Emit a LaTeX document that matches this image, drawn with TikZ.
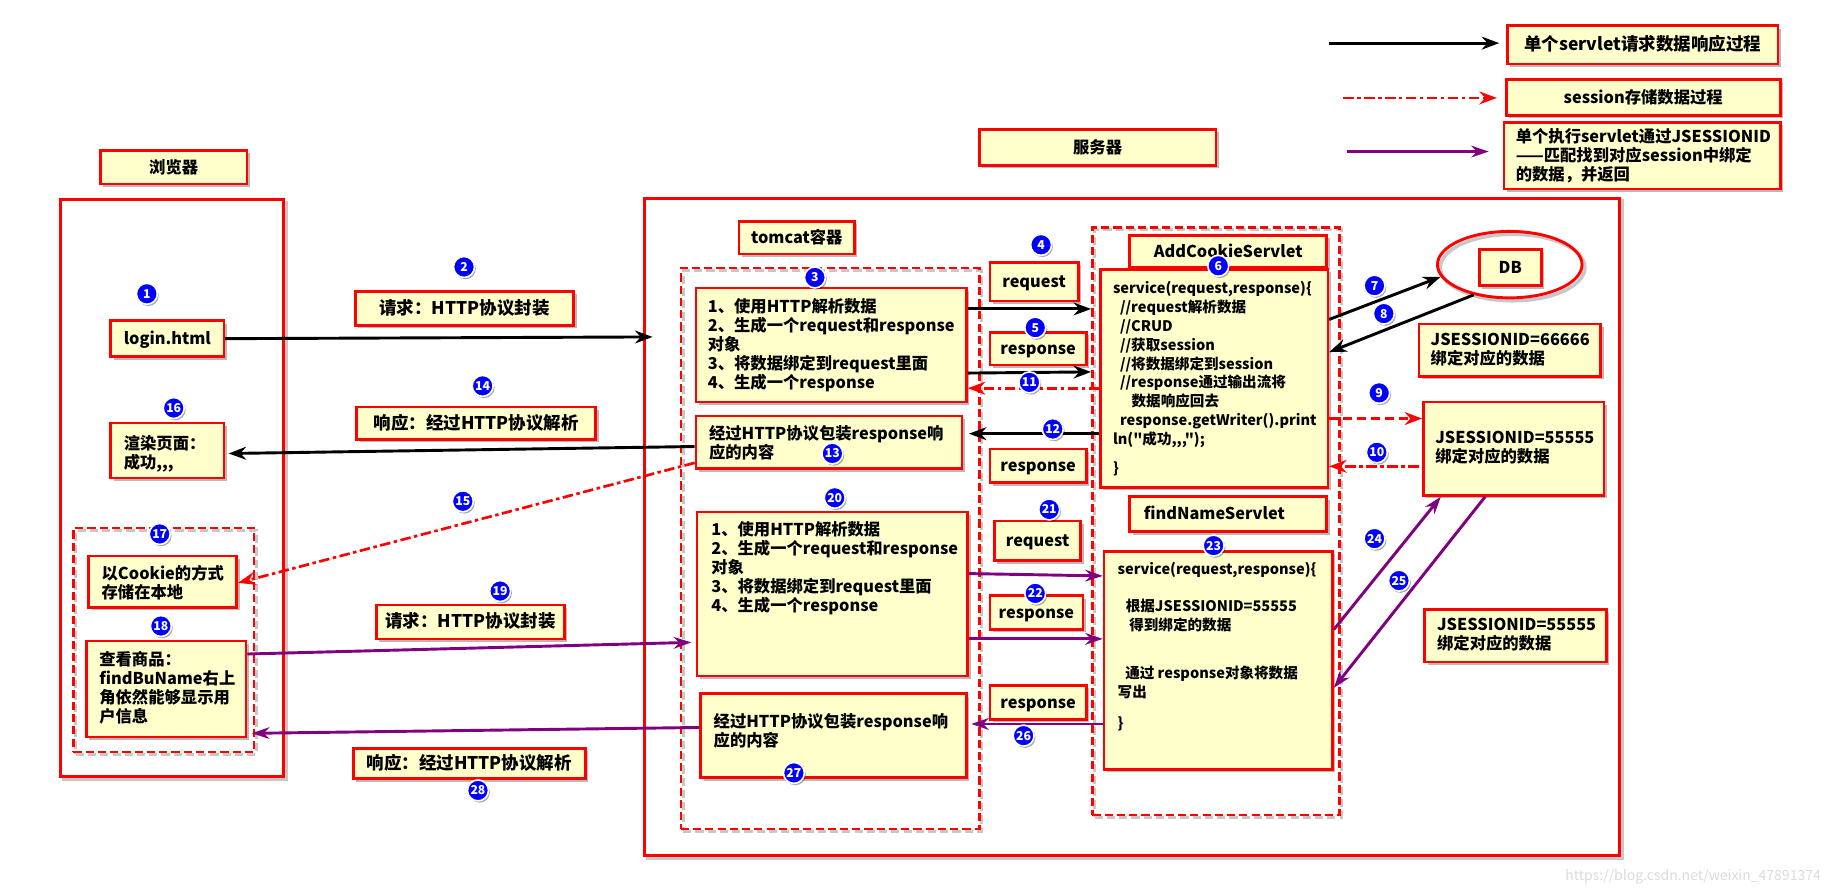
\documentclass[tikz,border=0pt]{standalone}
\usepackage{fontspec}
\newfontfamily\cjkface{Noto Sans CJK SC}
\usetikzlibrary{arrows.meta,fit,shapes.geometric}

\definecolor{paper}{HTML}{FFFFCC}
\definecolor{linkred}{HTML}{FF0000}
\definecolor{plum}{HTML}{800080}
\definecolor{dotblue}{HTML}{0000FF}

\newcommand\cardfont{\cjkface\fontsize{14}{16.3}\selectfont\bfseries}
\newcommand\capfont{\cjkface\fontsize{15}{16.3}\selectfont\bfseries}
\newcommand\codefont{\cjkface\fontsize{12.5}{16.2}\selectfont\bfseries}
\newcommand\numfont{\cjkface\fontsize{10.5}{10.5}\selectfont\bfseries}

\tikzset{
  shade/.style={preaction={fill=black, opacity=.28, transform canvas={xshift=2.5pt, yshift=-2.5pt}}},
  card/.style={draw=linkred, line width=2.2pt, fill=paper, inner sep=0pt, shade},
  tag/.style={anchor=base, inner sep=0pt, font=\cardfont},
  words/.style={inner sep=0pt, anchor=north west, align=left, font=\cardfont},
  code/.style={words, font=\codefont},
  frame/.style={draw=linkred, line width=2.5pt, inner sep=0pt,
    preaction={draw=black, opacity=.22, line width=3pt, transform canvas={xshift=2.5pt, yshift=-2.5pt}}},
  dframe/.style={draw=linkred, line width=2.3pt, inner sep=0pt, dash pattern=on 7pt off 3.5pt,
    preaction={draw=black, opacity=.22, line width=2.5pt, dash pattern=on 7pt off 3.5pt,
      transform canvas={xshift=2pt, yshift=-2pt}}},
  num/.style={circle, fill=dotblue, draw=white, line width=1.4pt, minimum size=18pt, inner sep=0pt,
    preaction={fill=black, opacity=.35, transform canvas={xshift=1.2pt, yshift=-1.5pt}}},
  numtext/.style={anchor=base, inner sep=0pt, text=white, font=\numfont},
  flow/.style={draw=black, line width=2.5pt, -{Stealth[length=15pt, width=11pt]}},
  sess/.style={draw=linkred, line width=2.3pt, dash pattern=on 9pt off 3pt on 3pt off 3pt,
    -{Stealth[length=15pt, width=11pt]}},
  sessdash/.style={sess, dash pattern=on 8pt off 4pt},
  byid/.style={draw=plum, line width=2.5pt, -{Stealth[length=15pt, width=10pt]}},
}
% a filled box with one centred line of text
\newcommand\card[4][]{%
  \node[card, fit={#3}] (#2) {};
  \node[tag, #1] (#2T) at ([yshift=-5pt]#2.center) {#4};}

\begin{document}
\begin{tikzpicture}[x=1pt, y=-1pt]
\fill[white] (0,0) rectangle (1568,768);
\useasboundingbox (0,0) rectangle (1568,768);

% ---------- outer frames ----------
\node[frame, fill=white, fit={(553,170) (1389,734)}] (server) {};
\node[frame, fill=white, fit={(52,171) (243,666)}] (browser) {};
\node[dframe, fit={(584,230) (840,711)}] (tomcat) {};
\node[dframe, fit={(937,195) (1149,699)}] (servlets) {};
\node[dframe, fit={(63,453) (218,645)}] (local) {};

% ---------- legend ----------
\coordinate (k1a) at (1140,37);  \coordinate (k1b) at (1286,37);
\coordinate (k2a) at (1152,84);  \coordinate (k2b) at (1284,84);
\coordinate (k3a) at (1155,130); \coordinate (k3b) at (1277,130);
\draw[flow] (k1a) -- (k1b);
\draw[sess] (k2a) -- (k2b);
\draw[byid] (k3a) -- (k3b);
\card[font=\capfont]{k1}{(1293,22) (1525,55)}{单个servlet请求数据响应过程}
\card{k2}{(1292,68) (1527,99)}{session存储数据过程}
\node[card, fit={(1290,105) (1527,162)}] (k3) {};
\node[words] (k3T) at (1300,110) {单个执行servlet通过JSESSIONID\\——匹配找到对应session中绑定\\的数据，并返回};

% ---------- titles ----------
\card{browserTag}{(86,129) (212,158)}{浏览器}
\card{serverTag}{(840,111) (1043,142)}{服务器}
\card{tomcatTag}{(634,190) (733,218)}{tomcat容器}

% ---------- browser side ----------
\card{login}{(95,275) (192,306)}{login.html}
\node[card, fit={(95,363) (192,410)}] (render) {};
\node[words] (renderT) at (106,373) {渲染页面：\\成功,,,};
\node[card, fit={(76,477) (203,521)}] (cookie) {};
\node[words] (cookieT) at (87,485) {以Cookie的方式\\存储在本地};
\node[card, fit={(74,550) (211,632)}] (goods) {};
\node[words] (goodsT) at (85,558.5) {查看商品：\\findBuName右上\\角依然能够显示用\\户信息};

% ---------- request / response captions ----------
\card[font=\capfont]{req1}{(305,250) (492,279)}{请求：HTTP协议封装}
\card[font=\capfont]{resp1}{(306,349) (511,377)}{响应：经过HTTP协议解析}
\card[font=\capfont]{req2}{(323,519) (484,548)}{请求：HTTP协议封装}
\card[font=\capfont]{resp2}{(303,642) (502,668)}{响应：经过HTTP协议解析}

% ---------- tomcat ----------
\node[card, fit={(597,247) (829,345)}] (boxA) {};
\node[words] (boxAT) at (607,255.5) {1、使用HTTP解析数据\\2、生成一个request和response\\对象\\3、将数据绑定到request里面\\4、生成一个response};
\node[card, fit={(597,357) (825,402)}] (boxB) {};
\node[words] (boxBT) at (608,365) {经过HTTP协议包装response响\\应的内容};
\node[card, fit={(598,439) (830,580)}] (boxC) {};
\node[words] (boxCT) at (610,447.5) {1、使用HTTP解析数据\\2、生成一个request和response\\对象\\3、将数据绑定到request里面\\4、生成一个response};
\node[card, fit={(601,595) (829,667)}] (boxD) {};
\node[words] (boxDT) at (612,612) {经过HTTP协议包装response响\\应的内容};

% ---------- request / response objects ----------
\card{mReq1}{(849,225) (925,258)}{request}
\card{mResp1}{(849,285) (932,313)}{response}
\card{mResp2}{(849,385) (932,414)}{response}
\card{mReq2}{(853,447) (927,481)}{request}
\card{mResp3}{(849,511) (929,540)}{response}
\card{mResp4}{(849,588) (932,617)}{response}

% ---------- servlets ----------
\card{addName}{(969,202) (1138,229)}{AddCookieServlet}
\node[card, fit={(944,231) (1139,418)}] (svc1) {};
\node[code] (svc1T) at (954.5,241) {service(request,response)\{\\
\hspace*{6pt}//request解析数据\\
\hspace*{6pt}//CRUD\\
\hspace*{6pt}//获取session\\
\hspace*{6pt}//将数据绑定到session\\
\hspace*{6pt}//response通过输出流将\\
\hspace*{16pt}数据响应回去\\
\hspace*{6pt}response.getWriter().print\\
ln("成功,,,");\\[9pt]
\}};
\node[card, fit={(969,426) (1138,456)}] (findName) {};
\node[words] (findNameT) at (981,433.5) {findNameServlet};
\node[card, fit={(947,473) (1143,660)}] (svc2) {};
\node[code] (svc2T) at (958.5,482) {service(request,response)\{\\[16pt]
\hspace*{7pt}根据JSESSIONID=55555\\
\hspace*{10pt}得到绑定的数据\\[25pt]
\hspace*{6.5pt}通过 response对象将数据\\
写出\\[10pt]
\}};

% ---------- storage ----------
\node[ellipse, draw=linkred, line width=2.5pt, minimum width=124pt, minimum height=57pt, inner sep=0pt,
  preaction={draw=black, opacity=.22, line width=3pt, transform canvas={xshift=2.5pt, yshift=-2.5pt}}]
  (db) at (1295,227) {};
\card{dbTag}{(1269,214) (1322,245)}{DB}
\node[card, fit={(1217,278) (1373,323)}] (js1) {};
\node[words] (js1T) at (1227,285.5) {JSESSIONID=66666\\绑定对应的数据};
\node[card, fit={(1221,345) (1376,425)}] (js2) {};
\node[words] (js2T) at (1231,369.5) {JSESSIONID=55555\\绑定对应的数据};
\node[card, fit={(1222,523) (1378,568)}] (js3) {};
\node[words] (js3T) at (1232.5,530) {JSESSIONID=55555\\绑定对应的数据};

% ---------- connectors ----------
\draw[flow] (login.east) -- ([xshift=8pt]server.west |- 0,289);
\draw[flow] (boxA.east |- 0,265) -- ([xshift=-7pt]svc1.west |- 0,265);
\draw[flow] (boxA.east |- 0,320) -- ([xshift=-7pt]svc1.west |- 0,319);
\draw[sess] (svc1.west |- 0,333) -- (boxA.east |- 0,333);
\draw[flow] (svc1.west |- 0,372) -- ([xshift=5pt]boxB.east |- 0,372);
\draw[flow] (boxB.west |- 0,383) -- ([xshift=3pt]render.east |- 0,389);
\draw[sess] (boxB.west |- 0,397) -- (cookie.east |- 0,500);
\draw[flow] (svc1.east |- 0,274) -- (db.190);
\draw[flow] (db.220) -- (svc1.east |- 0,302);
\draw[sessdash] (svc1.east |- 0,359) -- (js2.west |- 0,359);
\draw[sess] ([xshift=-3pt]js2.west |- 0,400) -- (svc1.east |- 0,400);
\draw[byid] (goods.east |- 0,561) -- ([xshift=-4pt]boxC.west |- 0,551);
\draw[byid] (boxC.east |- 0,492) -- (svc2.west |- 0,494);
\draw[byid] (boxC.east |- 0,548) -- (svc2.west |- 0,548);
\draw[byid] (svc2.east |- 0,540) -- ([xshift=16pt]js2.south west);
\draw[byid] ([xshift=54pt]js2.south west) -- (svc2.east |- 0,590);
\draw[byid] (svc2.west |- 0,621) -- ([xshift=3pt]boxD.east |- 0,621);
\draw[byid] (boxD.west |- 0,624) -- ([xshift=4pt]goods.east |- 0,629);

% ---------- step numbers ----------
\foreach \n/\x/\y in {1/126/252, 2/398/229, 3/699/238, 4/893/210, 5/888/281, 6/1045/228,
  7/1179/245, 8/1187/269, 9/1183/337, 10/1181/388, 11/883/328, 12/903/368, 13/714/389,
  14/414/331, 15/397/430, 16/149/350, 17/137/458, 18/138/537, 19/429/507, 20/716/427,
  21/900/437, 22/888/509, 23/1041/468, 24/1179/462, 25/1200/498, 26/878/631, 27/681/663,
  28/410/678}
  {\node[num] (n\n) at (\x,\y) {};
   \node[numtext] (n\n T) at ([yshift=-3.8pt]n\n.center) {\n};}

% ---------- source mark ----------
\node[font=\cjkface\fontsize{12}{12}\selectfont, text=black!14, anchor=east, inner sep=0pt] (mark) at (1562,752)
  {https://blog.csdn.net/weixin\_47891374};
\end{tikzpicture}
\end{document}
